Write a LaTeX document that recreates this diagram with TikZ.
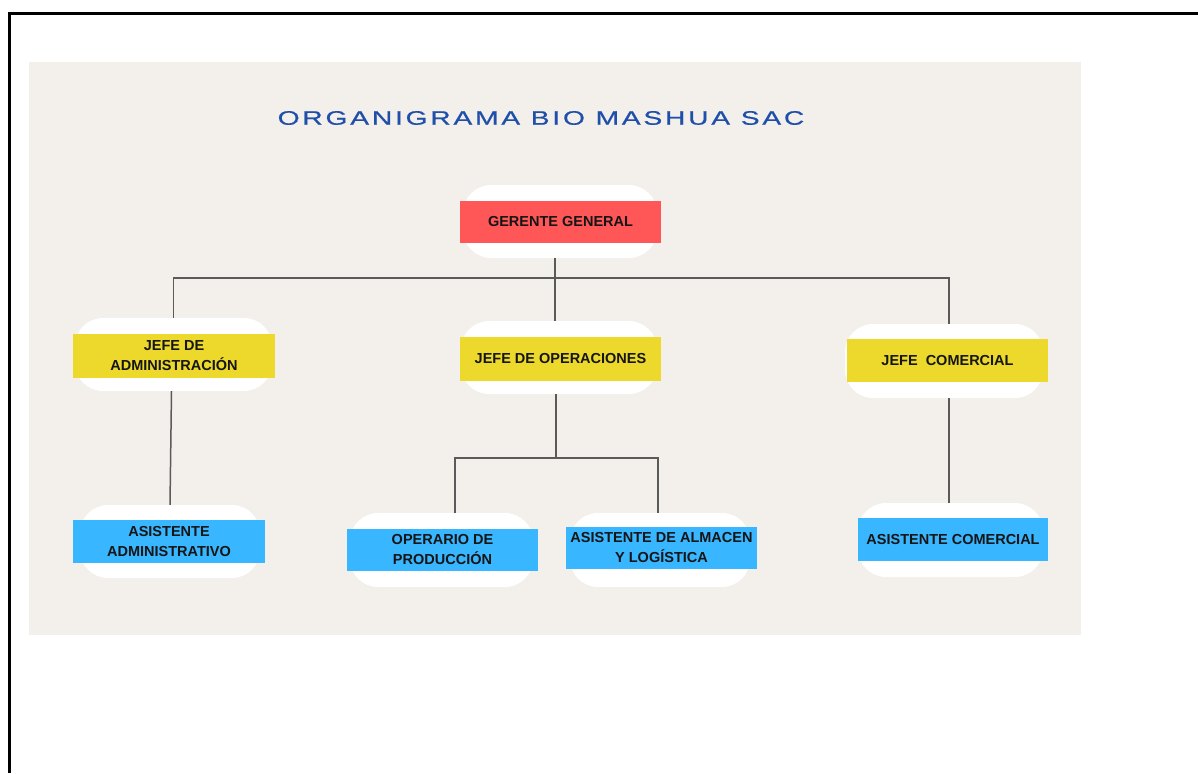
\documentclass[tikz,border=0pt]{standalone}
\usepackage{fontspec}
\setmainfont{Liberation Sans}
\newfontfamily\titlefont{Liberation Sans}[FakeStretch=1.45,LetterSpace=14,FakeBold=0.6]
\definecolor{panel}{HTML}{F3EFEA}
\definecolor{titleblue}{HTML}{1F4FAA}
\definecolor{redbox}{HTML}{FF5757}
\definecolor{yellowbox}{HTML}{ECD92C}
\definecolor{bluebox}{HTML}{38B6FF}
\definecolor{linkgray}{HTML}{5A5A5A}
\definecolor{boxtext}{HTML}{151515}

\begin{document}
\begin{tikzpicture}[x=1pt,y=-1pt,
  pill/.style={fill=white, rounded corners=28pt, inner sep=0pt},
  box/.style={fill=#1, inner sep=0pt, align=center, text=boxtext,
    font=\bfseries\fontsize{14.5}{20}\selectfont},
  link/.style={draw=linkgray, line width=1.5pt}]

\useasboundingbox (0,0) rectangle (1198,773);

% page frame and panel
\draw[line width=3pt] (9.5,773) -- (9.5,13.5) -- (1198,13.5);
\fill[panel] (29,62) rectangle (1081,635);

% title
\node[text=titleblue, font=\titlefont\fontsize{19.5}{20}\selectfont] (title) at (541,118) {ORGANIGRAMA BIO MASHUA SAC};

% level 1
\node[pill, minimum width=194pt, minimum height=73pt] (ggp) at (560,221.5) {};
\node[box=redbox, minimum width=201pt, minimum height=42pt] (gg) at (560.5,222) {GERENTE GENERAL};

% level 2
\node[pill, minimum width=197pt, minimum height=73pt] (jap) at (173.5,354.5) {};
\node[box=yellowbox, minimum width=202pt, minimum height=44pt] (ja) at (174,356) {JEFE DE\\ADMINISTRACIÓN};

\node[pill, minimum width=196pt, minimum height=73pt] (jop) at (559,357.5) {};
\node[box=yellowbox, minimum width=201pt, minimum height=44pt] (jo) at (560.5,359) {JEFE DE OPERACIONES};

\node[pill, minimum width=198pt, minimum height=74pt] (jcp) at (944,361) {};
\node[box=yellowbox, minimum width=201pt, minimum height=43pt] (jc) at (947.5,360.5) {JEFE\ \ COMERCIAL};

% level 3
\node[pill, minimum width=180pt, minimum height=73pt] (aap) at (170,541.5) {};
\node[box=bluebox, minimum width=192pt, minimum height=43pt] (aa) at (169,541.5) {ASISTENTE\\ADMINISTRATIVO};

\node[pill, minimum width=183pt, minimum height=74pt] (opp) at (441.5,550) {};
\node[box=bluebox, minimum width=191pt, minimum height=42pt] (op) at (442.5,550) {OPERARIO DE\\PRODUCCIÓN};

\node[pill, minimum width=180pt, minimum height=74pt] (alp) at (660,550) {};
\node[box=bluebox, minimum width=191pt, minimum height=42pt] (al) at (661.5,548) {ASISTENTE DE ALMACEN\\Y LOGÍSTICA};

\node[pill, minimum width=185pt, minimum height=74pt] (acp) at (950.5,540) {};
\node[box=bluebox, minimum width=190pt, minimum height=43pt] (ac) at (953,539.5) {ASISTENTE COMERCIAL};

% connectors
\coordinate (bus) at (555,278);
\coordinate (opbus) at (556,458);
\draw[link] (ggp.south -| bus) -- (jop.north -| bus);
\draw[link] (jap.north) |- (bus);
\draw[link] (bus) -| ([xshift=5pt]jcp.north);
\draw[link] ([xshift=-2pt]jap.south) -- (aap.north);
\draw[link] (jop.south -| opbus) -- (opbus);
\draw[link] ([xshift=13.5pt]opp.north) |- (opbus) -| ([xshift=-2pt]alp.north);
\draw[link] ([xshift=5pt]jcp.south) -- ([xshift=-1.5pt]acp.north);
\end{tikzpicture}
\end{document}
